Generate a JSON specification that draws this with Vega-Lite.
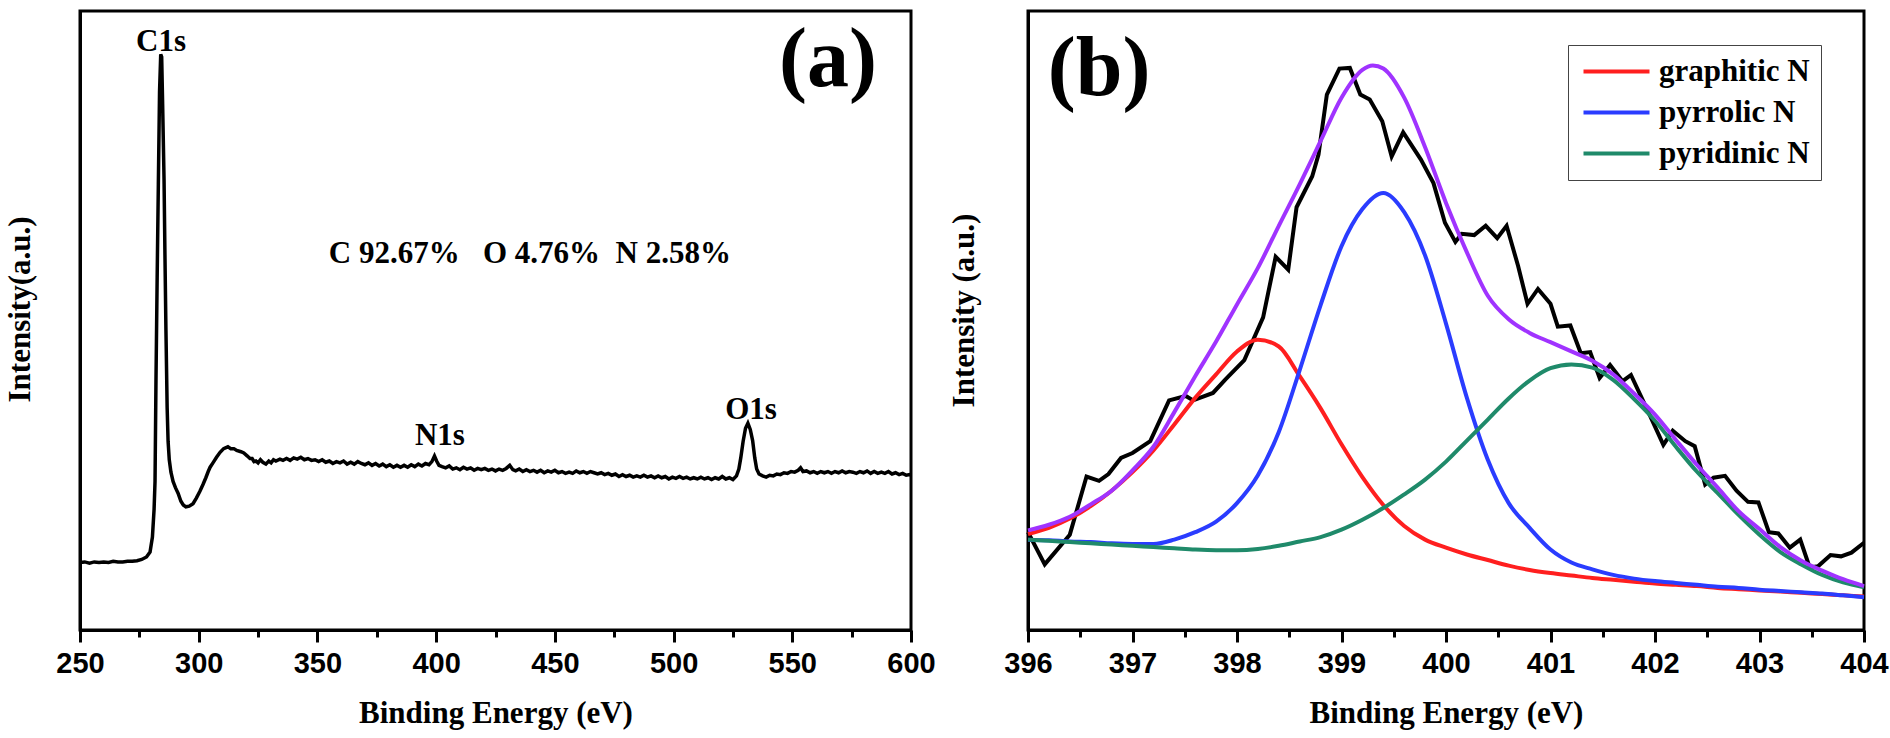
{
  "$schema": "https://vega.github.io/schema/vega-lite/v6.json",
  "padding": {"left": 2, "top": 9, "right": 0, "bottom": 0},
  "background": "white",
  "bounds": "flush",
  "spacing": 117,
  "datasets": {
    "survey": [
      {"e":250,"v":10.9},{"e":252,"v":11.0},{"e":254,"v":10.8},{"e":256,"v":11.0},{"e":258,"v":10.9},{"e":260,"v":11.0},{"e":262,"v":10.9},{"e":264,"v":11.1},{"e":266,"v":11.0},{"e":268,"v":11.0},{"e":270,"v":11.1},{"e":272,"v":11.1},{"e":274,"v":11.2},{"e":276,"v":11.4},{"e":278,"v":11.8},{"e":279.5,"v":12.6},{"e":280.5,"v":15.0},{"e":281.2,"v":19.5},{"e":281.6,"v":24.0},{"e":282.0,"v":40.3},{"e":282.5,"v":57},{"e":283.0,"v":72},{"e":283.5,"v":87},{"e":284.0,"v":93.0},{"e":284.4,"v":92.6},{"e":284.8,"v":85},{"e":285.4,"v":72.7},{"e":285.8,"v":60},{"e":286.2,"v":48.4},{"e":286.7,"v":36},{"e":287.1,"v":30.5},{"e":287.6,"v":27.5},{"e":288.3,"v":25.5},{"e":289.2,"v":24.0},{"e":290.2,"v":23.0},{"e":291.3,"v":22.1},{"e":292.5,"v":20.8},{"e":293.5,"v":20.2},{"e":294.6,"v":19.9},{"e":296.0,"v":20.0},{"e":297.6,"v":20.4},{"e":299.0,"v":21.3},{"e":300.5,"v":22.4},{"e":301.8,"v":23.5},{"e":303.0,"v":24.6},{"e":304.0,"v":25.6},{"e":304.8,"v":26.3},{"e":306.0,"v":27.0},{"e":307.5,"v":27.9},{"e":309.0,"v":28.7},{"e":310.5,"v":29.3},{"e":312.3,"v":29.6},{"e":313.5,"v":29.3},{"e":314.8,"v":29.3},{"e":316.0,"v":29.0},{"e":317.8,"v":28.8},{"e":319.0,"v":28.6},{"e":320.5,"v":28.1},{"e":321.6,"v":27.7},{"e":322.5,"v":27.7},{"e":323.3,"v":27.2},{"e":324.1,"v":27.3},{"e":325.0,"v":27.0},{"e":326.0,"v":27.5},{"e":327.0,"v":27.1},{"e":328.3,"v":26.8},{"e":329.5,"v":27.3},{"e":330.5,"v":27.0},{"e":331.5,"v":27.5},{"e":332.5,"v":27.3},{"e":334.2,"v":27.6},{"e":335.5,"v":27.4},{"e":337.0,"v":27.7},{"e":338.5,"v":27.4},{"e":340.0,"v":27.8},{"e":341.5,"v":27.6},{"e":343.0,"v":27.9},{"e":344.5,"v":27.5},{"e":346.0,"v":27.7},{"e":347.5,"v":27.4},{"e":349.0,"v":27.5},{"e":350.5,"v":27.2},{"e":352.0,"v":27.5},{"e":353.5,"v":27.1},{"e":355.0,"v":27.3},{"e":356.5,"v":26.9},{"e":358.0,"v":27.2},{"e":359.5,"v":27.0},{"e":361.0,"v":27.3},{"e":362.5,"v":26.8},{"e":364.0,"v":27.1},{"e":365.5,"v":26.8},{"e":367.0,"v":27.2},{"e":368.5,"v":26.9},{"e":370.0,"v":26.7},{"e":371.5,"v":27.0},{"e":373.0,"v":26.6},{"e":374.5,"v":26.9},{"e":376.0,"v":26.5},{"e":377.5,"v":26.8},{"e":379.0,"v":26.4},{"e":380.5,"v":26.7},{"e":382.0,"v":26.3},{"e":383.5,"v":26.6},{"e":385.0,"v":26.3},{"e":386.5,"v":26.6},{"e":388.0,"v":26.3},{"e":389.5,"v":26.7},{"e":391.0,"v":26.4},{"e":392.5,"v":26.8},{"e":394.0,"v":26.5},{"e":395.5,"v":26.9},{"e":397.0,"v":26.7},{"e":398.2,"v":27.2},{"e":399.3,"v":28.1},{"e":400.2,"v":27.3},{"e":401.2,"v":26.6},{"e":402.5,"v":26.4},{"e":404.0,"v":26.2},{"e":405.5,"v":26.5},{"e":407.0,"v":26.0},{"e":408.5,"v":26.2},{"e":410.0,"v":25.9},{"e":411.5,"v":26.3},{"e":413.0,"v":26.0},{"e":414.5,"v":26.2},{"e":416.0,"v":25.8},{"e":417.5,"v":26.1},{"e":419.0,"v":25.9},{"e":420.5,"v":26.1},{"e":422.0,"v":25.8},{"e":423.5,"v":26.0},{"e":425.0,"v":25.7},{"e":426.5,"v":26.0},{"e":428.0,"v":25.8},{"e":429.5,"v":26.1},{"e":431.0,"v":26.6},{"e":432.3,"v":25.9},{"e":433.5,"v":25.7},{"e":435.0,"v":26.0},{"e":436.5,"v":25.6},{"e":438.0,"v":25.9},{"e":439.5,"v":25.6},{"e":441.0,"v":25.8},{"e":442.5,"v":25.5},{"e":444.0,"v":25.8},{"e":445.5,"v":25.4},{"e":447.0,"v":25.7},{"e":448.5,"v":25.5},{"e":450.0,"v":25.8},{"e":451.5,"v":25.4},{"e":453.0,"v":25.6},{"e":454.5,"v":25.3},{"e":456.0,"v":25.5},{"e":457.5,"v":25.3},{"e":459.0,"v":25.7},{"e":460.5,"v":25.4},{"e":462.0,"v":25.6},{"e":463.5,"v":25.3},{"e":465.0,"v":25.6},{"e":466.5,"v":25.4},{"e":468.0,"v":25.2},{"e":469.5,"v":25.4},{"e":471.0,"v":25.1},{"e":472.5,"v":25.3},{"e":474.0,"v":25.0},{"e":475.5,"v":25.2},{"e":477.0,"v":24.8},{"e":478.5,"v":25.1},{"e":480.0,"v":24.8},{"e":481.5,"v":25.0},{"e":483.0,"v":24.7},{"e":484.5,"v":24.9},{"e":486.0,"v":24.7},{"e":487.5,"v":25.0},{"e":489.0,"v":24.7},{"e":490.5,"v":24.9},{"e":492.0,"v":24.6},{"e":493.5,"v":24.9},{"e":495.0,"v":24.6},{"e":496.5,"v":24.8},{"e":498.0,"v":24.4},{"e":499.5,"v":24.7},{"e":501.0,"v":24.5},{"e":502.5,"v":24.8},{"e":504.0,"v":24.5},{"e":505.5,"v":24.7},{"e":507.0,"v":24.4},{"e":508.5,"v":24.6},{"e":510.0,"v":24.4},{"e":511.5,"v":24.7},{"e":513.0,"v":24.4},{"e":514.5,"v":24.6},{"e":516.0,"v":24.3},{"e":517.5,"v":24.6},{"e":519.0,"v":24.4},{"e":520.5,"v":24.8},{"e":522.0,"v":24.4},{"e":523.5,"v":24.6},{"e":525.0,"v":24.3},{"e":526.5,"v":24.9},{"e":527.5,"v":26.0},{"e":528.3,"v":27.8},{"e":529.3,"v":30.5},{"e":530.3,"v":32.6},{"e":531.3,"v":33.4},{"e":532.3,"v":32.4},{"e":533.3,"v":30.6},{"e":534.2,"v":27.8},{"e":535.0,"v":26.0},{"e":536.0,"v":25.2},{"e":537.5,"v":24.9},{"e":539.0,"v":24.7},{"e":540.5,"v":25.0},{"e":542.0,"v":24.9},{"e":543.5,"v":25.2},{"e":545.0,"v":25.1},{"e":546.5,"v":25.4},{"e":548.0,"v":25.3},{"e":549.5,"v":25.6},{"e":551.0,"v":25.5},{"e":552.5,"v":25.8},{"e":553.5,"v":26.2},{"e":554.5,"v":25.6},{"e":556.0,"v":25.7},{"e":557.5,"v":25.4},{"e":559.0,"v":25.6},{"e":560.5,"v":25.3},{"e":562.0,"v":25.6},{"e":563.5,"v":25.4},{"e":565.0,"v":25.6},{"e":566.5,"v":25.3},{"e":568.0,"v":25.6},{"e":569.5,"v":25.4},{"e":571.0,"v":25.7},{"e":572.5,"v":25.4},{"e":574.0,"v":25.6},{"e":575.5,"v":25.5},{"e":577.0,"v":25.3},{"e":578.5,"v":25.6},{"e":580.0,"v":25.4},{"e":581.5,"v":25.7},{"e":583.0,"v":25.3},{"e":584.5,"v":25.6},{"e":586.0,"v":25.3},{"e":587.5,"v":25.5},{"e":589.0,"v":25.3},{"e":590.5,"v":25.6},{"e":592.0,"v":25.2},{"e":593.5,"v":25.4},{"e":595.0,"v":25.1},{"e":596.5,"v":25.3},{"e":598.0,"v":25.0},{"e":599.5,"v":25.1},{"e":600.0,"v":25.0}
    ],
    "peaks": [
      {"e":284.1,"v":95.0,"t":"C1s"},
      {"e":401.6,"v":31.3,"t":"N1s"},
      {"e":532.6,"v":35.5,"t":"O1s"}
    ],
    "note": [
      {"e":439.5,"v":60.7,"t":"C 92.67%\u00a0\u00a0\u00a0O 4.76%\u00a0\u00a0N 2.58%"}
    ],
    "tagA": [{"e":565.0,"v":92.0,"t":"(a)"}],
    "tagB": [{"e":396.68,"v":90.5,"t":"(b)"}],
    "exp": [
      {"e":396.00,"v":15.8},{"e":396.16,"v":10.6},{"e":396.40,"v":15.4},{"e":396.56,"v":24.8},{"e":396.68,"v":24.1},{"e":396.77,"v":25.2},{"e":396.89,"v":27.8},{"e":397.00,"v":28.6},{"e":397.17,"v":30.5},{"e":397.35,"v":37.1},{"e":397.51,"v":37.8},{"e":397.58,"v":37.1},{"e":397.77,"v":38.3},{"e":397.89,"v":40.5},{"e":398.07,"v":43.6},{"e":398.25,"v":50.5},{"e":398.37,"v":60.3},{"e":398.49,"v":58.2},{"e":398.57,"v":68.3},{"e":398.72,"v":73.3},{"e":398.78,"v":76.8},{"e":398.86,"v":86.5},{"e":398.98,"v":90.7},{"e":399.08,"v":90.8},{"e":399.18,"v":86.5},{"e":399.27,"v":85.7},{"e":399.39,"v":82.2},{"e":399.48,"v":76.5},{"e":399.59,"v":80.4},{"e":399.76,"v":76.0},{"e":399.88,"v":72.2},{"e":399.99,"v":65.8},{"e":400.09,"v":62.7},{"e":400.15,"v":64.0},{"e":400.27,"v":63.8},{"e":400.38,"v":65.3},{"e":400.49,"v":63.3},{"e":400.58,"v":65.3},{"e":400.69,"v":58.8},{"e":400.78,"v":52.7},{"e":400.88,"v":55.1},{"e":401.00,"v":52.7},{"e":401.07,"v":49.0},{"e":401.19,"v":49.2},{"e":401.29,"v":44.7},{"e":401.38,"v":44.9},{"e":401.47,"v":40.7},{"e":401.57,"v":42.8},{"e":401.69,"v":40.2},{"e":401.77,"v":41.2},{"e":401.95,"v":34.7},{"e":402.08,"v":29.9},{"e":402.17,"v":32.2},{"e":402.29,"v":30.5},{"e":402.38,"v":29.7},{"e":402.48,"v":23.5},{"e":402.56,"v":24.6},{"e":402.67,"v":24.9},{"e":402.78,"v":22.5},{"e":402.89,"v":20.7},{"e":402.99,"v":20.6},{"e":403.09,"v":15.8},{"e":403.18,"v":15.6},{"e":403.29,"v":13.3},{"e":403.39,"v":14.6},{"e":403.48,"v":10.1},{"e":403.56,"v":10.3},{"e":403.68,"v":12.1},{"e":403.78,"v":11.9},{"e":403.88,"v":12.5},{"e":404.00,"v":14.1}
    ],
    "parts": [
      {"s":"graphitic N","e":396.0,"v":15.5},{"s":"graphitic N","e":396.2,"v":16.5},{"s":"graphitic N","e":396.4,"v":18.0},{"s":"graphitic N","e":396.6,"v":20.0},{"s":"graphitic N","e":396.8,"v":22.5},{"s":"graphitic N","e":397.0,"v":25.5},{"s":"graphitic N","e":397.2,"v":29.0},{"s":"graphitic N","e":397.4,"v":33.2},{"s":"graphitic N","e":397.6,"v":37.5},{"s":"graphitic N","e":397.8,"v":41.3},{"s":"graphitic N","e":398.0,"v":45.0},{"s":"graphitic N","e":398.2,"v":46.9},{"s":"graphitic N","e":398.4,"v":45.8},{"s":"graphitic N","e":398.6,"v":41.0},{"s":"graphitic N","e":398.8,"v":35.8},{"s":"graphitic N","e":399.0,"v":30.0},{"s":"graphitic N","e":399.2,"v":24.7},{"s":"graphitic N","e":399.4,"v":20.2},{"s":"graphitic N","e":399.6,"v":16.8},{"s":"graphitic N","e":399.8,"v":14.6},{"s":"graphitic N","e":400.0,"v":13.3},{"s":"graphitic N","e":400.2,"v":12.2},{"s":"graphitic N","e":400.4,"v":11.3},{"s":"graphitic N","e":400.6,"v":10.4},{"s":"graphitic N","e":400.8,"v":9.7},{"s":"graphitic N","e":401.0,"v":9.2},{"s":"graphitic N","e":401.2,"v":8.8},{"s":"graphitic N","e":401.4,"v":8.4},{"s":"graphitic N","e":401.6,"v":8.1},{"s":"graphitic N","e":401.8,"v":7.8},{"s":"graphitic N","e":402.0,"v":7.5},{"s":"graphitic N","e":402.2,"v":7.3},{"s":"graphitic N","e":402.4,"v":7.1},{"s":"graphitic N","e":402.6,"v":6.8},{"s":"graphitic N","e":402.8,"v":6.6},{"s":"graphitic N","e":403.0,"v":6.4},{"s":"graphitic N","e":403.2,"v":6.2},{"s":"graphitic N","e":403.4,"v":6.0},{"s":"graphitic N","e":403.6,"v":5.8},{"s":"graphitic N","e":403.8,"v":5.6},{"s":"graphitic N","e":404.0,"v":5.4},
      {"s":"pyrrolic N","e":396.0,"v":14.6},{"s":"pyrrolic N","e":396.2,"v":14.5},{"s":"pyrrolic N","e":396.4,"v":14.3},{"s":"pyrrolic N","e":396.6,"v":14.2},{"s":"pyrrolic N","e":396.8,"v":14.0},{"s":"pyrrolic N","e":397.0,"v":13.9},{"s":"pyrrolic N","e":397.2,"v":13.9},{"s":"pyrrolic N","e":397.4,"v":14.6},{"s":"pyrrolic N","e":397.6,"v":15.8},{"s":"pyrrolic N","e":397.8,"v":17.5},{"s":"pyrrolic N","e":398.0,"v":20.5},{"s":"pyrrolic N","e":398.2,"v":25.0},{"s":"pyrrolic N","e":398.4,"v":32.0},{"s":"pyrrolic N","e":398.6,"v":42.0},{"s":"pyrrolic N","e":398.8,"v":52.5},{"s":"pyrrolic N","e":399.0,"v":62.0},{"s":"pyrrolic N","e":399.2,"v":68.0},{"s":"pyrrolic N","e":399.4,"v":70.6},{"s":"pyrrolic N","e":399.6,"v":67.5},{"s":"pyrrolic N","e":399.8,"v":60.5},{"s":"pyrrolic N","e":400.0,"v":49.5},{"s":"pyrrolic N","e":400.2,"v":37.5},{"s":"pyrrolic N","e":400.4,"v":27.5},{"s":"pyrrolic N","e":400.6,"v":20.5},{"s":"pyrrolic N","e":400.8,"v":16.5},{"s":"pyrrolic N","e":401.0,"v":13.0},{"s":"pyrrolic N","e":401.2,"v":10.9},{"s":"pyrrolic N","e":401.4,"v":9.8},{"s":"pyrrolic N","e":401.6,"v":8.9},{"s":"pyrrolic N","e":401.8,"v":8.3},{"s":"pyrrolic N","e":402.0,"v":7.9},{"s":"pyrrolic N","e":402.2,"v":7.6},{"s":"pyrrolic N","e":402.4,"v":7.3},{"s":"pyrrolic N","e":402.6,"v":7.0},{"s":"pyrrolic N","e":402.8,"v":6.8},{"s":"pyrrolic N","e":403.0,"v":6.5},{"s":"pyrrolic N","e":403.2,"v":6.3},{"s":"pyrrolic N","e":403.4,"v":6.1},{"s":"pyrrolic N","e":403.6,"v":5.9},{"s":"pyrrolic N","e":403.8,"v":5.6},{"s":"pyrrolic N","e":404.0,"v":5.3},
      {"s":"pyridinic N","e":396.0,"v":14.6},{"s":"pyridinic N","e":396.2,"v":14.4},{"s":"pyridinic N","e":396.4,"v":14.2},{"s":"pyridinic N","e":396.6,"v":14.0},{"s":"pyridinic N","e":396.8,"v":13.8},{"s":"pyridinic N","e":397.0,"v":13.6},{"s":"pyridinic N","e":397.2,"v":13.4},{"s":"pyridinic N","e":397.4,"v":13.2},{"s":"pyridinic N","e":397.6,"v":13.0},{"s":"pyridinic N","e":397.8,"v":12.9},{"s":"pyridinic N","e":398.0,"v":12.9},{"s":"pyridinic N","e":398.2,"v":13.1},{"s":"pyridinic N","e":398.4,"v":13.6},{"s":"pyridinic N","e":398.6,"v":14.3},{"s":"pyridinic N","e":398.8,"v":15.0},{"s":"pyridinic N","e":399.0,"v":16.2},{"s":"pyridinic N","e":399.2,"v":17.8},{"s":"pyridinic N","e":399.4,"v":19.7},{"s":"pyridinic N","e":399.6,"v":21.9},{"s":"pyridinic N","e":399.8,"v":24.3},{"s":"pyridinic N","e":400.0,"v":27.2},{"s":"pyridinic N","e":400.2,"v":30.6},{"s":"pyridinic N","e":400.4,"v":34.0},{"s":"pyridinic N","e":400.6,"v":37.4},{"s":"pyridinic N","e":400.8,"v":40.3},{"s":"pyridinic N","e":401.0,"v":42.3},{"s":"pyridinic N","e":401.2,"v":42.9},{"s":"pyridinic N","e":401.4,"v":42.4},{"s":"pyridinic N","e":401.6,"v":40.4},{"s":"pyridinic N","e":401.8,"v":37.3},{"s":"pyridinic N","e":402.0,"v":33.8},{"s":"pyridinic N","e":402.2,"v":29.6},{"s":"pyridinic N","e":402.4,"v":25.6},{"s":"pyridinic N","e":402.6,"v":22.1},{"s":"pyridinic N","e":402.8,"v":18.6},{"s":"pyridinic N","e":403.0,"v":15.4},{"s":"pyridinic N","e":403.2,"v":12.6},{"s":"pyridinic N","e":403.4,"v":10.6},{"s":"pyridinic N","e":403.6,"v":8.9},{"s":"pyridinic N","e":403.8,"v":7.7},{"s":"pyridinic N","e":404.0,"v":6.9}
    ],
    "fit": [
      {"e":396.0,"v":16.1},{"e":396.2,"v":17.0},{"e":396.4,"v":18.3},{"e":396.6,"v":20.3},{"e":396.8,"v":22.5},{"e":397.0,"v":25.8},{"e":397.2,"v":29.6},{"e":397.4,"v":35.2},{"e":397.6,"v":41.0},{"e":397.8,"v":46.6},{"e":398.0,"v":52.6},{"e":398.2,"v":58.5},{"e":398.4,"v":65.3},{"e":398.6,"v":72.0},{"e":398.8,"v":79.0},{"e":399.0,"v":86.0},{"e":399.2,"v":90.5},{"e":399.3,"v":91.2},{"e":399.4,"v":90.7},{"e":399.6,"v":86.0},{"e":399.8,"v":78.0},{"e":400.0,"v":69.0},{"e":400.2,"v":61.0},{"e":400.4,"v":54.0},{"e":400.6,"v":50.2},{"e":400.8,"v":48.0},{"e":401.0,"v":46.5},{"e":401.2,"v":45.0},{"e":401.4,"v":43.5},{"e":401.6,"v":41.3},{"e":401.8,"v":38.2},{"e":402.0,"v":34.8},{"e":402.2,"v":30.7},{"e":402.4,"v":26.7},{"e":402.6,"v":23.0},{"e":402.8,"v":19.2},{"e":403.0,"v":16.3},{"e":403.2,"v":13.4},{"e":403.4,"v":11.2},{"e":403.6,"v":9.6},{"e":403.8,"v":8.2},{"e":404.0,"v":7.1}
    ]
  },
  "hconcat": [
    {
      "width": 831,
      "height": 619,
      "layer": [
        {
          "data": {"name": "survey"},
          "mark": {"type": "line", "color": "black", "strokeWidth": 3.5},
          "encoding": {
            "x": {
              "field": "e",
              "type": "quantitative",
              "title": "Binding Energy (eV)",
              "scale": {"domain": [250, 600], "nice": false, "zero": false},
              "axis": {
                "values": [250, 275, 300, 325, 350, 375, 400, 425, 450, 475, 500, 525, 550, 575, 600],
                "format": ".0f",
                "labelExpr": "datum.value % 50 === 0 ? datum.label : ''",
                "tickSize": {"condition": {"test": "datum.value % 50 === 0", "value": 12}, "value": 7},
                "labelPadding": 7,
                "titlePadding": 20,
                "labelOverlap": false,
                "labelFlush": false
              }
            },
            "y": {
              "field": "v",
              "type": "quantitative",
              "title": "Intensity(a.u.)",
              "scale": {"domain": [0, 100], "nice": false, "zero": false},
              "axis": {"labels": false, "ticks": false, "titlePadding": 44, "titleY": 298}
            }
          }
        },
        {
          "data": {"name": "peaks"},
          "mark": {"type": "text", "font": "Liberation Serif", "fontWeight": "bold", "fontSize": 31, "baseline": "middle", "align": "center", "color": "black"},
          "encoding": {"x": {"field": "e", "type": "quantitative"}, "y": {"field": "v", "type": "quantitative"}, "text": {"field": "t"}}
        },
        {
          "data": {"name": "note"},
          "mark": {"type": "text", "font": "Liberation Serif", "fontWeight": "bold", "fontSize": 31, "baseline": "middle", "align": "center", "color": "black"},
          "encoding": {"x": {"field": "e", "type": "quantitative"}, "y": {"field": "v", "type": "quantitative"}, "text": {"field": "t"}}
        },
        {
          "data": {"name": "tagA"},
          "mark": {"type": "text", "font": "Liberation Serif", "fontWeight": "bold", "fontSize": 84, "baseline": "middle", "align": "center", "color": "black"},
          "encoding": {"x": {"field": "e", "type": "quantitative"}, "y": {"field": "v", "type": "quantitative"}, "text": {"field": "t"}}
        }
      ]
    },
    {
      "width": 836,
      "height": 619,
      "layer": [
        {
          "data": {"name": "exp"},
          "mark": {"type": "line", "color": "black", "strokeWidth": 4},
          "encoding": {
            "x": {
              "field": "e",
              "type": "quantitative",
              "title": "Binding Energy (eV)",
              "scale": {"domain": [396, 404], "nice": false, "zero": false},
              "axis": {
                "values": [396, 396.5, 397, 397.5, 398, 398.5, 399, 399.5, 400, 400.5, 401, 401.5, 402, 402.5, 403, 403.5, 404],
                "format": ".0f",
                "labelExpr": "datum.value % 1 === 0 ? datum.label : ''",
                "tickSize": {"condition": {"test": "datum.value % 1 === 0", "value": 12}, "value": 7},
                "labelPadding": 7,
                "titlePadding": 20,
                "labelOverlap": false,
                "labelFlush": false
              }
            },
            "y": {
              "field": "v",
              "type": "quantitative",
              "title": "Intensity (a.u.)",
              "scale": {"domain": [0, 100], "nice": false, "zero": false},
              "axis": {"labels": false, "ticks": false, "titlePadding": 48, "titleY": 299}
            }
          }
        },
        {
          "data": {"name": "parts"},
          "mark": {"type": "line", "strokeWidth": 4, "interpolate": "monotone"},
          "encoding": {
            "x": {"field": "e", "type": "quantitative"},
            "y": {"field": "v", "type": "quantitative"},
            "color": {
              "field": "s",
              "type": "nominal",
              "scale": {"domain": ["graphitic N", "pyrrolic N", "pyridinic N"], "range": ["#ff1f1f", "#2a3cff", "#1f8a6a"]},
              "legend": {
                "orient": "none",
                "legendX": 1488,
                "legendY": 34,
                "title": null,
                "padding": 11,
                "rowPadding": 9,
                "fillColor": "white",
                "strokeColor": "#444444",
                "symbolType": "M-1,0H5",
                "symbolSize": 484,
                "symbolStrokeWidth": 4,
                "labelOffset": 49,
                "labelFont": "Liberation Serif",
                "labelFontWeight": "bold",
                "labelFontSize": 31,
                "labelColor": "black"
              }
            }
          }
        },
        {
          "data": {"name": "fit"},
          "mark": {"type": "line", "color": "#a033ff", "strokeWidth": 4, "interpolate": "monotone"},
          "encoding": {"x": {"field": "e", "type": "quantitative"}, "y": {"field": "v", "type": "quantitative"}}
        },
        {
          "data": {"name": "tagB"},
          "mark": {"type": "text", "font": "Liberation Serif", "fontWeight": "bold", "fontSize": 84, "baseline": "middle", "align": "center", "color": "black"},
          "encoding": {"x": {"field": "e", "type": "quantitative"}, "y": {"field": "v", "type": "quantitative"}, "text": {"field": "t"}}
        }
      ]
    }
  ],
  "config": {
    "font": "Liberation Serif",
    "view": {"stroke": "black", "strokeWidth": 3},
    "axis": {
      "grid": false,
      "domainColor": "black",
      "domainWidth": 3,
      "tickColor": "black",
      "tickWidth": 3,
      "labelFont": "Liberation Sans",
      "labelFontWeight": "bold",
      "labelFontSize": 29,
      "labelColor": "black",
      "titleFont": "Liberation Serif",
      "titleFontWeight": "bold",
      "titleFontSize": 31,
      "titleColor": "black"
    }
  }
}
